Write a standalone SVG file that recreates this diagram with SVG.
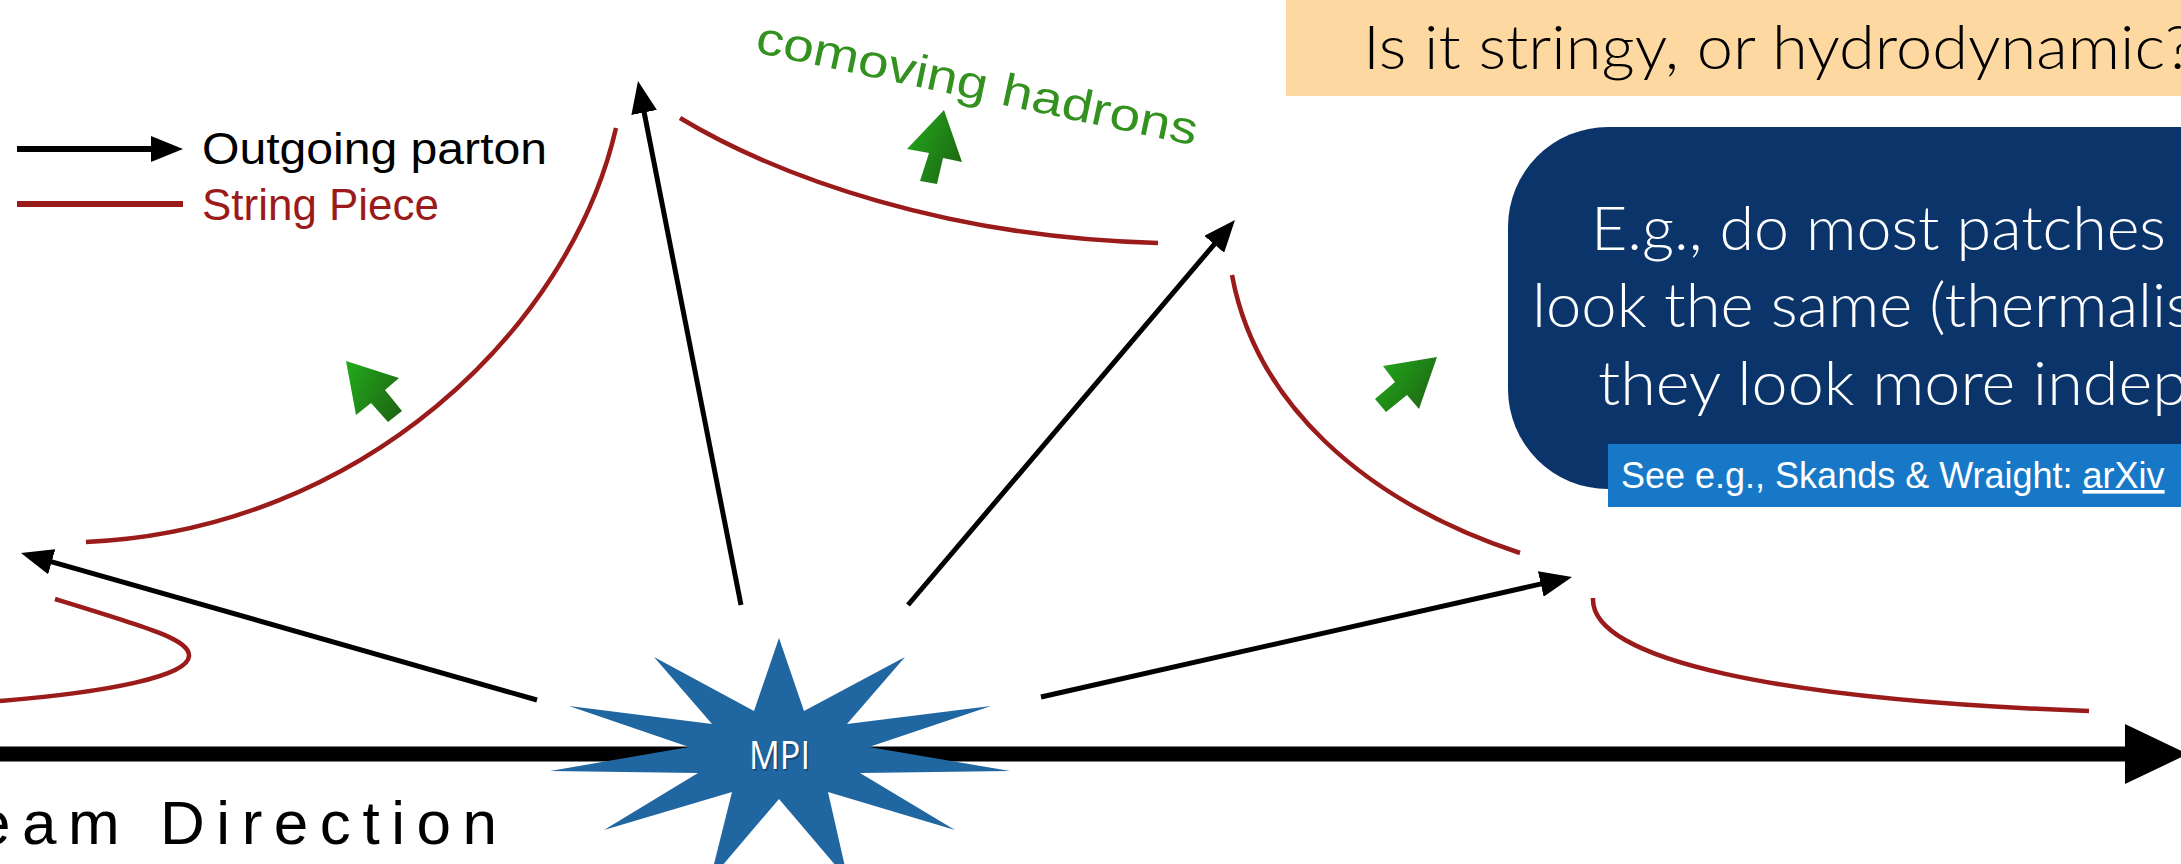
<svg xmlns="http://www.w3.org/2000/svg" width="2181" height="864" viewBox="0 0 2181 864">
<style>
.lbl{font-family:"Liberation Sans",Arial,sans-serif}
.q{font-family:Lato,"Open Sans",sans-serif;font-size:62px;font-weight:300}
.str{fill:none;stroke:#9B1B1B;stroke-width:4.5}
.prt{fill:none;stroke:#000;stroke-width:5;marker-end:url(#ah)}
.had{fill:url(#gg)}
.mpi{font-family:"Open Sans","Noto Sans",sans-serif;font-size:39px}
</style>
<defs>
<marker id="ah" markerUnits="userSpaceOnUse" markerWidth="32" markerHeight="26" viewBox="0 0 32 26" refX="20" refY="13" orient="auto">
<path d="M0,0 L32,13 L0,26 Z" fill="#000"/>
</marker>
<linearGradient id="gg" x1="0" y1="0.2" x2="1" y2="0.8">
<stop offset="0" stop-color="#22A61C"/>
<stop offset="1" stop-color="#1E6612"/>
</linearGradient>
</defs>
<rect width="2181" height="864" fill="#fff"/>

<g id="beige-box">
<rect x="1286" y="0" width="900" height="96" fill="#FDD8A0"/>
<text class="q" x="1363" y="69" fill="#000" textLength="830" lengthAdjust="spacingAndGlyphs">Is it stringy, or hydrodynamic?</text>
</g>

<g id="question-box">
<path d="M1608,127 H2200 V489 H1608 A100,100 0 0 1 1508,389 V227 A100,100 0 0 1 1608,127 Z" fill="#0A346A"/>
<text class="q" x="1591" y="250" fill="#fff" textLength="575" lengthAdjust="spacingAndGlyphs">E.g., do most patches</text>
<text class="q" x="1532" y="327" fill="#fff" textLength="661" lengthAdjust="spacingAndGlyphs">look the same (thermalis</text>
<text class="q" x="1598" y="405" fill="#fff" textLength="590" lengthAdjust="spacingAndGlyphs">they look more indep</text>
</g>

<g id="citation">
<rect x="1608" y="444" width="600" height="63" fill="#1878C8"/>
<text class="lbl" x="1621" y="488" font-size="36" fill="#fff">See e.g., Skands &amp; Wraight: <tspan text-decoration="underline">arXiv</tspan></text>
</g>

<g id="legend">
<line class="prt" x1="17" y1="149" x2="171" y2="149" style="stroke-width:6"/>
<text class="lbl" x="202" y="164" font-size="44" fill="#000" textLength="345" lengthAdjust="spacingAndGlyphs">Outgoing parton</text>
<line x1="17" y1="204" x2="183" y2="204" stroke="#9B1B1B" stroke-width="6"/>
<text class="lbl" x="202" y="220" font-size="44" fill="#9B1B1B" textLength="237" lengthAdjust="spacingAndGlyphs">String Piece</text>
</g>

<g id="beam-axis">
<line x1="0" y1="754" x2="2130" y2="754" stroke="#000" stroke-width="15"/>
<polygon points="2125,724 2188,754 2125,784" fill="#000"/>
<text class="lbl" x="-24" y="844" font-size="62" fill="#000" textLength="521" lengthAdjust="spacing">eam Direction</text>
</g>

<g id="strings">
<path class="str" d="M86,542 C360,530 570,330 616,128"/>
<path class="str" d="M55,599 C150,628 190,640 189,656 C188,676 110,692 0,701"/>
<path class="str" d="M680,118 C780,178 950,238 1158,243"/>
<path class="str" d="M1232,275 C1255,400 1360,500 1520,553"/>
<path class="str" d="M1593,598 C1590,660 1780,700 2089,711"/>
</g>

<g id="connectors">
<line class="prt" x1="537" y1="700" x2="32.5" y2="556.3"/>
<line class="prt" x1="741" y1="605" x2="640.3" y2="92.8"/>
<line class="prt" x1="908" y1="605" x2="1227.2" y2="229.1"/>
<line class="prt" x1="1041" y1="697" x2="1560.3" y2="579.6"/>
</g>

<g id="mpi">
<polygon fill="#2066A1" points="779,638 804,711 905,657 847,724 991,706 869,747 1010,771 860,773 955,830 828,792 848,880 779,799 710,880 732,792 604,830 698,773 550,771 689,747 569,706 712,724 654,657 754,711"/>
<text class="mpi" x="781" y="771" fill="#0A2A50" fill-opacity="0.5" text-anchor="middle" textLength="61" lengthAdjust="spacingAndGlyphs">MPI</text>
<text class="mpi" x="779.5" y="769" fill="#fff" text-anchor="middle" textLength="61" lengthAdjust="spacingAndGlyphs">MPI</text>
</g>

<g id="hadron-arrows">
<polygon class="had" points="346,361 399,378 385,390 402,411 388,422 371,403 356,415"/>
<polygon class="had" points="944,110 962,162 943,158 937,184 920,181 929,153 907,149"/>
<polygon class="had" points="1437,357 1419,409 1407,395 1386,412 1375,399 1395,382 1383,366"/>
</g>

<g id="comoving-label">
<text class="lbl" x="754" y="52" font-size="46" fill="#33911F" transform="rotate(12 754 52)" textLength="450" lengthAdjust="spacingAndGlyphs">comoving hadrons</text>
</g>
</svg>
